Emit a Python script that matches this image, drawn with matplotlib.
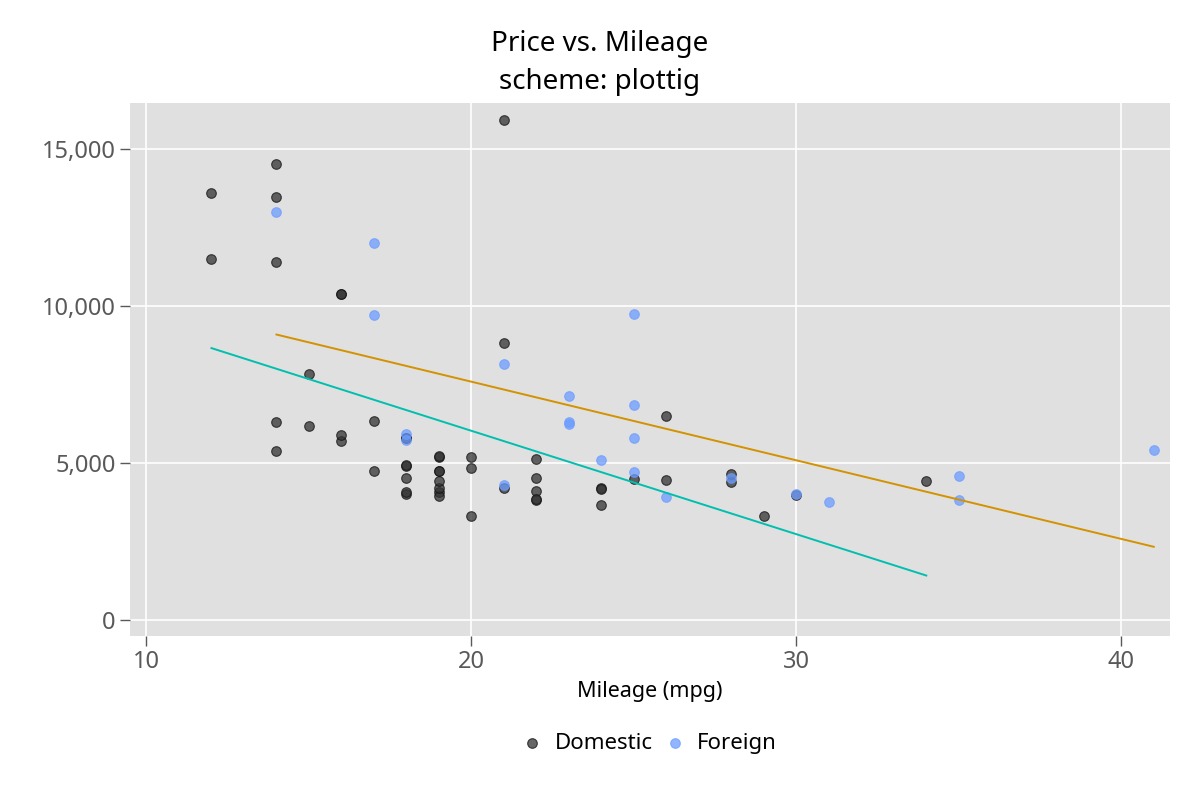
import numpy as np
import matplotlib
matplotlib.use("Agg")
import matplotlib.pyplot as plt
from matplotlib.ticker import FuncFormatter

plt.rcParams["font.family"] = ["Noto Sans", "DejaVu Sans"]

# auto data: mileage (mpg) and price
domestic_mpg = [22, 17, 22, 20, 15, 18, 26, 20, 16, 19, 14, 14, 21, 29, 16, 22, 22, 24,
                19, 30, 18, 16, 17, 28, 21, 12, 12, 14, 22, 14, 15, 18, 14, 20, 21, 19,
                19, 18, 19, 24, 16, 28, 34, 25, 26, 18, 18, 18, 19, 19, 19, 24]
domestic_price = [4099, 4749, 3799, 4816, 7827, 5788, 4453, 5189, 10372, 4082, 11385,
                  14500, 15906, 3299, 5705, 4504, 5104, 3667, 3955, 3984, 4010, 5886,
                  6342, 4389, 4187, 11497, 13594, 13466, 3829, 5379, 6165, 4516, 6303,
                  3291, 8814, 5172, 4733, 4890, 4181, 4195, 10371, 4647, 4425, 4482,
                  6486, 4060, 5798, 4934, 5222, 4723, 4424, 4172]
foreign_mpg = [17, 23, 25, 23, 35, 24, 21, 21, 25, 28, 30, 14, 26, 35, 18, 31, 18, 23,
               41, 25, 25, 17]
foreign_price = [9690, 6295, 9735, 6229, 4589, 5079, 8129, 4296, 5799, 4499, 3995,
                 12990, 3895, 3798, 5899, 3748, 5719, 7140, 5397, 4697, 6850, 11995]

groups = ["Domestic", "Foreign"]
x_ticks = [10, 20, 30, 40]
y_ticks = [0, 5000, 10000, 15000]

fig = plt.figure(figsize=(12, 8), dpi=100)
ax = fig.add_axes([0.108, 0.205, 0.867, 0.666])
ax.set_facecolor("#e0e0e0")
for s in ax.spines.values():
    s.set_visible(False)
ax.grid(True, color="white", linewidth=1.2)
ax.set_axisbelow(True)

ax.scatter(domestic_mpg, domestic_price, s=48, color="#333333", alpha=0.75,
           edgecolor="#111111", linewidth=0.8, label=groups[0], zorder=3)
ax.scatter(foreign_mpg, foreign_price, s=48, color="#6c9cff", alpha=0.75,
           edgecolor="#6c9cff", linewidth=0.8, label=groups[1], zorder=3)

# linear fits per group
for mpg, price, col in ((domestic_mpg, domestic_price, "#00bfae"),
                        (foreign_mpg, foreign_price, "#d39200")):
    b, a = np.polyfit(mpg, price, 1)
    xs = np.array([min(mpg), max(mpg)])
    ax.plot(xs, a + b * xs, color=col, linewidth=1.4, zorder=4)

ax.set_xlim(9.48, 41.5)
ax.set_ylim(-520, 16450)
ax.set_xticks(x_ticks)
ax.set_yticks(y_ticks)
ax.yaxis.set_major_formatter(FuncFormatter(lambda v, p: f"{int(v):,}"))
ax.tick_params(colors="#595959", labelsize=17, length=7, width=1, pad=3)
ax.set_xlabel("Mileage (mpg)", fontsize=15.5, labelpad=5)

fig.suptitle("Price vs. Mileage\nscheme: plottig", fontsize=20, y=0.962,
             linespacing=1.45)

leg = ax.legend(loc="upper center", bbox_to_anchor=(0.494, -0.145), ncol=2,
                frameon=False, fontsize=16, handletextpad=0.0,
                columnspacing=0.0, markerscale=1.0)

fig.savefig("out.png", dpi=100)
